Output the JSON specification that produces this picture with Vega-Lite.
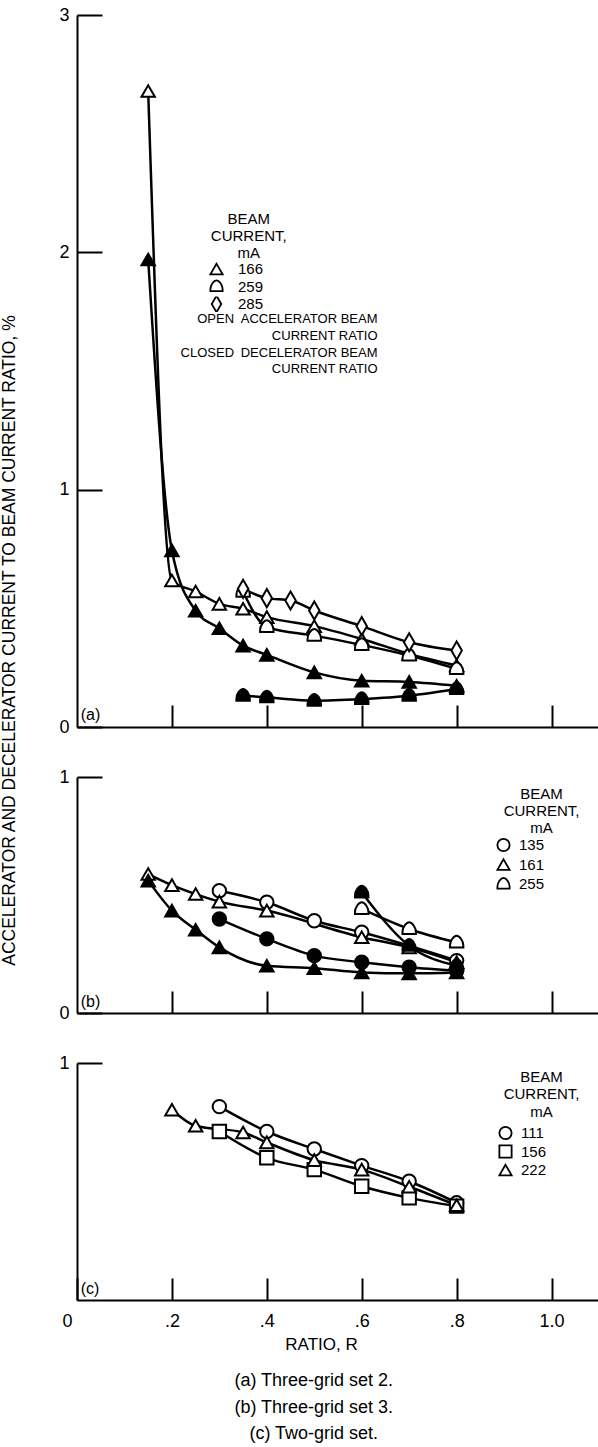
{
  "$schema": "https://vega.github.io/schema/vega-lite/v6.json",
  "background": "white",
  "padding": {"left": 0, "top": 6, "right": 0, "bottom": 2},
  "bounds": "flush",
  "spacing": 50,
  "config": {
    "view": {"stroke": null},
    "font": "Liberation Sans",
    "axis": {"domainColor": "black", "domainWidth": 2, "tickColor": "black", "tickWidth": 2, "grid": false, "labelColor": "black", "labelFontSize": 18, "labelFont": "Liberation Sans", "titleFont": "Liberation Sans", "titleColor": "black", "titleFontWeight": "normal"},
    "legend": {"labelFontSize": 15, "labelColor": "black", "labelFont": "Liberation Sans"},
    "text": {"font": "Liberation Sans", "fontSize": 13, "color": "black"}
  },
  "title": {
    "text": ["(a) Three-grid set 2.", "(b) Three-grid set 3.", "(c) Two-grid set."],
    "orient": "bottom", "anchor": "middle", "font": "Liberation Sans", "fontSize": 18, "fontWeight": "normal", "lineHeight": 26.5, "offset": 20, "dx": 14, "color": "black"
  },
  "resolve": {"scale": {"x": "independent", "y": "independent", "shape": "independent", "fill": "independent"}, "legend": {"shape": "independent"}},
  "vconcat": [
    {
      "width": 522, "height": 712,
      "data": {"values": [
        {"R": 0.15, "v": 2.68, "mA": "166", "state": "open"},
        {"R": 0.2, "v": 0.617, "mA": "166", "state": "open"},
        {"R": 0.25, "v": 0.571, "mA": "166", "state": "open"},
        {"R": 0.3, "v": 0.519, "mA": "166", "state": "open"},
        {"R": 0.35, "v": 0.498, "mA": "166", "state": "open"},
        {"R": 0.4, "v": 0.463, "mA": "166", "state": "open"},
        {"R": 0.5, "v": 0.425, "mA": "166", "state": "open"},
        {"R": 0.6, "v": 0.371, "mA": "166", "state": "open"},
        {"R": 0.7, "v": 0.308, "mA": "166", "state": "open"},
        {"R": 0.8, "v": 0.259, "mA": "166", "state": "open"},
        {"R": 0.35, "v": 0.57, "mA": "259", "state": "open"},
        {"R": 0.4, "v": 0.421, "mA": "259", "state": "open"},
        {"R": 0.5, "v": 0.385, "mA": "259", "state": "open"},
        {"R": 0.6, "v": 0.346, "mA": "259", "state": "open"},
        {"R": 0.7, "v": 0.301, "mA": "259", "state": "open"},
        {"R": 0.8, "v": 0.245, "mA": "259", "state": "open"},
        {"R": 0.35, "v": 0.582, "mA": "285", "state": "open"},
        {"R": 0.4, "v": 0.543, "mA": "285", "state": "open"},
        {"R": 0.45, "v": 0.533, "mA": "285", "state": "open"},
        {"R": 0.5, "v": 0.491, "mA": "285", "state": "open"},
        {"R": 0.6, "v": 0.425, "mA": "285", "state": "open"},
        {"R": 0.7, "v": 0.357, "mA": "285", "state": "open"},
        {"R": 0.8, "v": 0.322, "mA": "285", "state": "open"},
        {"R": 0.15, "v": 1.97, "mA": "166", "state": "closed"},
        {"R": 0.2, "v": 0.744, "mA": "166", "state": "closed"},
        {"R": 0.25, "v": 0.49, "mA": "166", "state": "closed"},
        {"R": 0.3, "v": 0.416, "mA": "166", "state": "closed"},
        {"R": 0.35, "v": 0.343, "mA": "166", "state": "closed"},
        {"R": 0.4, "v": 0.304, "mA": "166", "state": "closed"},
        {"R": 0.5, "v": 0.23, "mA": "166", "state": "closed"},
        {"R": 0.6, "v": 0.195, "mA": "166", "state": "closed"},
        {"R": 0.7, "v": 0.19, "mA": "166", "state": "closed"},
        {"R": 0.8, "v": 0.174, "mA": "166", "state": "closed"},
        {"R": 0.35, "v": 0.132, "mA": "259", "state": "closed"},
        {"R": 0.4, "v": 0.125, "mA": "259", "state": "closed"},
        {"R": 0.5, "v": 0.111, "mA": "259", "state": "closed"},
        {"R": 0.6, "v": 0.118, "mA": "259", "state": "closed"},
        {"R": 0.7, "v": 0.132, "mA": "259", "state": "closed"},
        {"R": 0.8, "v": 0.16, "mA": "259", "state": "closed"}
      ]},
      "encoding": {
        "x": {"field": "R", "type": "quantitative", "scale": {"domain": [0, 1.1], "nice": false, "zero": false},
              "axis": {"values": [0.2, 0.4, 0.6, 0.8, 1.0], "labels": false, "tickSize": -22, "title": null}},
        "y": {"field": "v", "type": "quantitative", "scale": {"domain": [0, 3], "nice": false},
              "axis": {"values": [0, 1, 2, 3], "format": "d", "tickSize": -25, "labelPadding": 33,
                       "title": "ACCELERATOR AND DECELERATOR CURRENT TO BEAM CURRENT RATIO, %",
                       "titleFontSize": 17.5, "titleAngle": 270,
                       "titleX": -58.5, "titleY": 625, "titleAlign": "center", "titleBaseline": "bottom"}}
      },
      "layer": [
        {"mark": {"type": "line", "interpolate": "monotone", "color": "black", "strokeWidth": 2.5},
         "encoding": {"detail": [{"field": "mA"}, {"field": "state"}]}},
        {"mark": {"type": "point", "filled": true, "size": 180, "stroke": "black", "strokeWidth": 2, "opacity": 1},
         "encoding": {
           "shape": {"field": "mA", "type": "nominal",
                     "scale": {"domain": ["166", "259", "285"], "range": ["triangle-up", "M-1,0.75L-1,0.45C-1,-0.2,-0.45,-1,0,-1C0.45,-1,1,-0.2,1,0.45L1,0.75Z", "M0,-1.35L0.78,0L0,1.35L-0.78,0Z"]},
                     "legend": {"title": null, "orient": "none", "legendX": 132, "legendY": 246.5, "clipHeight": 15,
                                "symbolSize": 150, "symbolStrokeWidth": 1.8, "symbolStrokeColor": "black", "symbolFillColor": "white",
                                "labelOffset": 14, "rowPadding": 1.5}},
           "fill": {"field": "state", "type": "nominal", "scale": {"domain": ["open", "closed"], "range": ["white", "black"]}, "legend": null}
         }},
        {"data": {"values": [{"R": 0.362, "v": 2.14, "label": "BEAM"}, {"R": 0.362, "v": 2.068, "label": "CURRENT,"}, {"R": 0.362, "v": 1.996, "label": "mA"}]},
         "mark": {"type": "text", "align": "center", "baseline": "middle", "fontSize": 15},
         "encoding": {"text": {"field": "label"}}},
        {"data": {"values": [{"R": 0.331, "v": 1.72, "label": "OPEN"}, {"R": 0.331, "v": 1.576, "label": "CLOSED"}]},
         "mark": {"type": "text", "align": "right", "baseline": "middle"},
         "encoding": {"text": {"field": "label"}}},
        {"data": {"values": [{"R": 0.345, "v": 1.72, "label": "ACCELERATOR BEAM"}, {"R": 0.345, "v": 1.576, "label": "DECELERATOR BEAM"}]},
         "mark": {"type": "text", "align": "left", "baseline": "middle"},
         "encoding": {"text": {"field": "label"}}},
        {"data": {"values": [{"R": 0.522, "v": 1.648, "label": "CURRENT RATIO"}, {"R": 0.522, "v": 1.509, "label": "CURRENT RATIO"}]},
         "mark": {"type": "text", "align": "center", "baseline": "middle"},
         "encoding": {"text": {"field": "label"}}},
        {"data": {"values": [{"R": 0.008, "v": 0.017, "label": "(a)"}]},
         "mark": {"type": "text", "align": "left", "baseline": "bottom", "fontSize": 16},
         "encoding": {"text": {"field": "label"}}}
      ]
    },
    {
      "width": 522, "height": 236,
      "data": {"values": [
        {"R": 0.3, "v": 0.518, "mA": "135", "state": "open"},
        {"R": 0.4, "v": 0.469, "mA": "135", "state": "open"},
        {"R": 0.5, "v": 0.391, "mA": "135", "state": "open"},
        {"R": 0.6, "v": 0.342, "mA": "135", "state": "open"},
        {"R": 0.8, "v": 0.222, "mA": "135", "state": "open"},
        {"R": 0.15, "v": 0.589, "mA": "161", "state": "open"},
        {"R": 0.2, "v": 0.542, "mA": "161", "state": "open"},
        {"R": 0.25, "v": 0.504, "mA": "161", "state": "open"},
        {"R": 0.3, "v": 0.472, "mA": "161", "state": "open"},
        {"R": 0.4, "v": 0.434, "mA": "161", "state": "open"},
        {"R": 0.6, "v": 0.321, "mA": "161", "state": "open"},
        {"R": 0.7, "v": 0.278, "mA": "161", "state": "open"},
        {"R": 0.8, "v": 0.215, "mA": "161", "state": "open"},
        {"R": 0.6, "v": 0.441, "mA": "255", "state": "open"},
        {"R": 0.7, "v": 0.356, "mA": "255", "state": "open"},
        {"R": 0.8, "v": 0.299, "mA": "255", "state": "open"},
        {"R": 0.3, "v": 0.398, "mA": "135", "state": "closed"},
        {"R": 0.4, "v": 0.314, "mA": "135", "state": "closed"},
        {"R": 0.5, "v": 0.243, "mA": "135", "state": "closed"},
        {"R": 0.6, "v": 0.215, "mA": "135", "state": "closed"},
        {"R": 0.7, "v": 0.194, "mA": "135", "state": "closed"},
        {"R": 0.8, "v": 0.179, "mA": "135", "state": "closed"},
        {"R": 0.15, "v": 0.561, "mA": "161", "state": "closed"},
        {"R": 0.2, "v": 0.434, "mA": "161", "state": "closed"},
        {"R": 0.25, "v": 0.353, "mA": "161", "state": "closed"},
        {"R": 0.3, "v": 0.278, "mA": "161", "state": "closed"},
        {"R": 0.4, "v": 0.2, "mA": "161", "state": "closed"},
        {"R": 0.5, "v": 0.19, "mA": "161", "state": "closed"},
        {"R": 0.6, "v": 0.172, "mA": "161", "state": "closed"},
        {"R": 0.7, "v": 0.168, "mA": "161", "state": "closed"},
        {"R": 0.8, "v": 0.172, "mA": "161", "state": "closed"},
        {"R": 0.6, "v": 0.511, "mA": "255", "state": "closed"},
        {"R": 0.7, "v": 0.285, "mA": "255", "state": "closed"},
        {"R": 0.8, "v": 0.2, "mA": "255", "state": "closed"}
      ]},
      "encoding": {
        "x": {"field": "R", "type": "quantitative", "scale": {"domain": [0, 1.1], "nice": false, "zero": false},
              "axis": {"values": [0.2, 0.4, 0.6, 0.8, 1.0], "labels": false, "tickSize": -22, "title": null}},
        "y": {"field": "v", "type": "quantitative", "scale": {"domain": [0, 1], "nice": false},
              "axis": {"values": [0, 1], "format": "d", "tickSize": -25, "labelPadding": 33, "title": null}}
      },
      "layer": [
        {"mark": {"type": "line", "interpolate": "monotone", "color": "black", "strokeWidth": 2.5},
         "encoding": {"detail": [{"field": "mA"}, {"field": "state"}]}},
        {"mark": {"type": "point", "filled": true, "size": 180, "stroke": "black", "strokeWidth": 2, "opacity": 1},
         "encoding": {
           "shape": {"field": "mA", "type": "nominal",
                     "scale": {"domain": ["135", "161", "255"], "range": ["circle", "triangle-up", "M-1,0.75L-1,0.45C-1,-0.2,-0.45,-1,0,-1C0.45,-1,1,-0.2,1,0.45L1,0.75Z"]},
                     "legend": {"title": null, "orient": "none", "legendX": 419, "legendY": 60.5, "clipHeight": 15,
                                "symbolSize": 150, "symbolStrokeWidth": 1.8, "symbolStrokeColor": "black", "symbolFillColor": "white",
                                "labelOffset": 8, "rowPadding": 3.5}},
           "fill": {"field": "state", "type": "nominal", "scale": {"domain": ["open", "closed"], "range": ["white", "black"]}, "legend": null}
         }},
        {"data": {"values": [{"R": 0.979, "v": 0.93, "label": "BEAM"}, {"R": 0.979, "v": 0.858, "label": "CURRENT,"}, {"R": 0.979, "v": 0.786, "label": "mA"}]},
         "mark": {"type": "text", "align": "center", "baseline": "middle", "fontSize": 15},
         "encoding": {"text": {"field": "label"}}},
        {"data": {"values": [{"R": 0.008, "v": 0.012, "label": "(b)"}]},
         "mark": {"type": "text", "align": "left", "baseline": "bottom", "fontSize": 16},
         "encoding": {"text": {"field": "label"}}}
      ]
    },
    {
      "width": 522, "height": 237,
      "data": {"values": [
        {"R": 0.3, "v": 0.816, "mA": "111", "state": "open"},
        {"R": 0.4, "v": 0.711, "mA": "111", "state": "open"},
        {"R": 0.5, "v": 0.637, "mA": "111", "state": "open"},
        {"R": 0.6, "v": 0.567, "mA": "111", "state": "open"},
        {"R": 0.7, "v": 0.501, "mA": "111", "state": "open"},
        {"R": 0.8, "v": 0.41, "mA": "111", "state": "open"},
        {"R": 0.3, "v": 0.711, "mA": "156", "state": "open"},
        {"R": 0.4, "v": 0.6, "mA": "156", "state": "open"},
        {"R": 0.5, "v": 0.55, "mA": "156", "state": "open"},
        {"R": 0.6, "v": 0.48, "mA": "156", "state": "open"},
        {"R": 0.7, "v": 0.431, "mA": "156", "state": "open"},
        {"R": 0.8, "v": 0.396, "mA": "156", "state": "open"},
        {"R": 0.2, "v": 0.803, "mA": "222", "state": "open"},
        {"R": 0.25, "v": 0.735, "mA": "222", "state": "open"},
        {"R": 0.35, "v": 0.707, "mA": "222", "state": "open"},
        {"R": 0.4, "v": 0.665, "mA": "222", "state": "open"},
        {"R": 0.5, "v": 0.59, "mA": "222", "state": "open"},
        {"R": 0.6, "v": 0.55, "mA": "222", "state": "open"},
        {"R": 0.7, "v": 0.478, "mA": "222", "state": "open"},
        {"R": 0.8, "v": 0.4, "mA": "222", "state": "open"}
      ]},
      "encoding": {
        "x": {"field": "R", "type": "quantitative", "scale": {"domain": [0, 1.1], "nice": false, "zero": false},
              "axis": {"values": [0, 0.2, 0.4, 0.6, 0.8, 1.0], "tickSize": -22, "labelPadding": 34, "labelFlush": false,
                       "labelExpr": "datum.value == 0 ? '0' : datum.value == 1 ? '1.0' : replace(format(datum.value, '.1f'), '0.', '.')",
                       "labelOffset": {"condition": {"test": "datum.value == 0", "value": -10}, "value": 0},
                       "title": "RATIO, R", "titleFontSize": 17, "titleX": 244, "titleY": 36, "titleAlign": "center", "titleBaseline": "top"}},
        "y": {"field": "v", "type": "quantitative", "scale": {"domain": [0, 1], "nice": false},
              "axis": {"values": [1], "format": "d", "tickSize": -25, "labelPadding": 33, "title": null}}
      },
      "layer": [
        {"mark": {"type": "line", "interpolate": "monotone", "color": "black", "strokeWidth": 2.5},
         "encoding": {"detail": [{"field": "mA"}, {"field": "state"}]}},
        {"mark": {"type": "point", "filled": true, "size": 180, "stroke": "black", "strokeWidth": 2, "opacity": 1},
         "encoding": {
           "shape": {"field": "mA", "type": "nominal",
                     "scale": {"domain": ["111", "156", "222"], "range": ["circle", "square", "triangle-up"]},
                     "legend": {"title": null, "orient": "none", "legendX": 421, "legendY": 62.5, "clipHeight": 15,
                                "symbolSize": 150, "symbolStrokeWidth": 1.8, "symbolStrokeColor": "black", "symbolFillColor": "white",
                                "labelOffset": 8, "rowPadding": 2.5}},
           "fill": {"field": "state", "type": "nominal", "scale": {"domain": ["open", "closed"], "range": ["white", "black"]}, "legend": null}
         }},
        {"data": {"values": [{"R": 0.979, "v": 0.941, "label": "BEAM"}, {"R": 0.979, "v": 0.869, "label": "CURRENT,"}, {"R": 0.979, "v": 0.793, "label": "mA"}]},
         "mark": {"type": "text", "align": "center", "baseline": "middle", "fontSize": 15},
         "encoding": {"text": {"field": "label"}}},
        {"data": {"values": [{"R": 0.008, "v": 0.012, "label": "(c)"}]},
         "mark": {"type": "text", "align": "left", "baseline": "bottom", "fontSize": 16},
         "encoding": {"text": {"field": "label"}}}
      ]
    }
  ]
}
